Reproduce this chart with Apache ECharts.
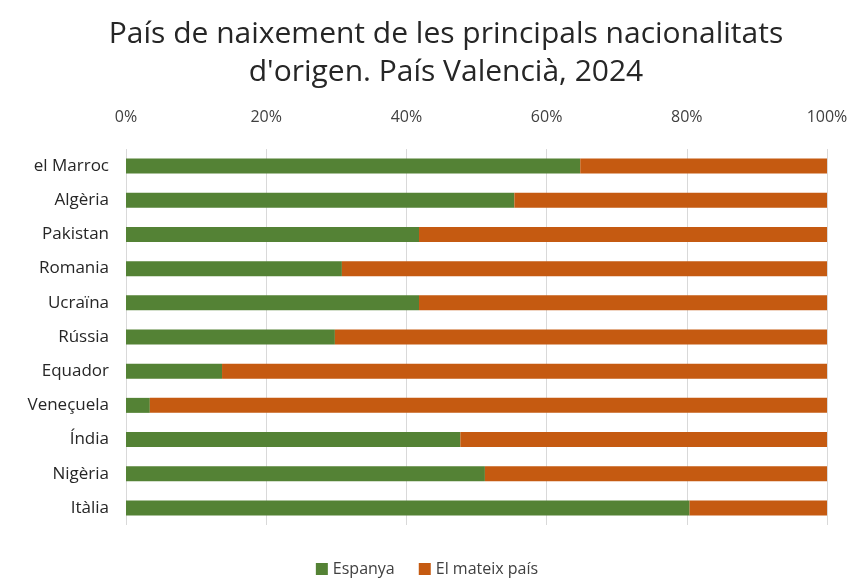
<!DOCTYPE html>
<html>
<head>
<meta charset="utf-8">
<script src="https://cdn.jsdelivr.net/npm/echarts@6/dist/echarts.min.js"></script>
<style>
  html, body { margin: 0; padding: 0; background: #fff; }
  #chart { width: 854px; height: 582px; }
</style>
</head>
<body>
<div id="chart"></div>
<script>
// països d'origen (de dalt a baix)
const paisos = ["el Marroc", "Algèria", "Pakistan", "Romania", "Ucraïna", "Rússia",
  "Equador", "Veneçuela", "Índia", "Nigèria", "Itàlia"]
// % nascuts a Espanya
const espanya = [64.8, 55.4, 41.8, 30.8, 41.8, 29.8, 13.7, 3.4, 47.7, 51.2, 80.4]
// % nascuts al mateix país
const mateixPais = [35.2, 44.6, 58.2, 69.2, 58.2, 70.2, 86.3, 96.6, 52.3, 48.8, 19.6]

const font = "'Open Sans', sans-serif"

const chart = echarts.init(document.getElementById("chart"))
chart.setOption({
  animation: false,
  title: {
    text: "País de naixement de les principals nacionalitats\nd'origen. País Valencià, 2024",
    left: 441,
    textAlign: "center",
    top: 10,
    textStyle: {
      fontFamily: font,
      fontSize: 30,
      fontWeight: "normal",
      color: "#262626",
      lineHeight: 38
    }
  },
  legend: {
    bottom: 0,
    left: "center",
    itemWidth: 12,
    itemHeight: 12,
    itemGap: 24,
    icon: "rect",
    textStyle: { fontFamily: font, fontSize: 16, color: "#404040" },
    data: ["Espanya", "El mateix país"]
  },
  grid: {
    left: 126,
    right: 27,
    top: 149,
    bottom: 57
  },
  xAxis: {
    type: "value",
    position: "top",
    min: 0,
    max: 100,
    interval: 20,
    axisLine: { show: false },
    axisTick: { show: false },
    axisLabel: {
      formatter: "{value}%",
      fontFamily: font,
      fontSize: 16,
      color: "#404040",
      margin: 24
    },
    splitLine: { lineStyle: { color: "#d9d9d9" } }
  },
  yAxis: {
    type: "category",
    inverse: true,
    data: paisos,
    axisLine: { show: false },
    axisTick: { show: false },
    axisLabel: {
      fontFamily: font,
      fontSize: 17,
      color: "#262626",
      margin: 17
    }
  },
  series: [
    {
      name: "Espanya",
      type: "bar",
      stack: "total",
      barWidth: 15,
      data: espanya,
      itemStyle: { color: "#548235" }
    },
    {
      name: "El mateix país",
      type: "bar",
      stack: "total",
      barWidth: 15,
      data: mateixPais,
      itemStyle: { color: "#c55a11" }
    }
  ]
})
</script>
</body>
</html>
